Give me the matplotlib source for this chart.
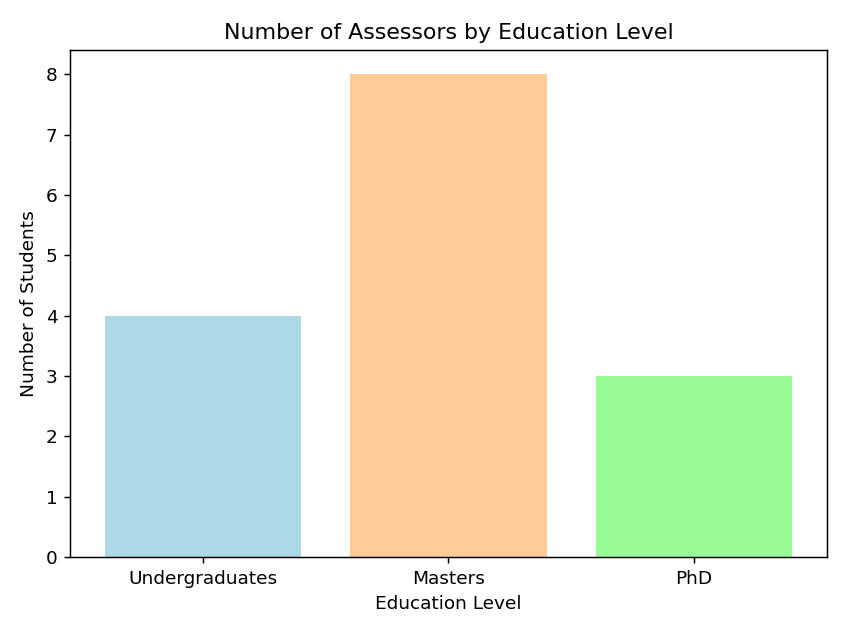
import matplotlib
matplotlib.use('Agg')
import matplotlib.pyplot as plt

levels = ['Undergraduates', 'Masters', 'PhD']
counts = [4, 8, 3]
colors = ['lightblue', '#FFCC99', 'palegreen']


def plot_data():
    """Plot the bar chart."""
    dpi = 133
    fig, ax = plt.subplots(figsize=(847 / dpi, 635 / dpi), dpi=dpi)
    ax.bar(levels, counts, color=colors)
    ax.set_title('Number of Assessors by Education Level')
    ax.set_xlabel('Education Level')
    ax.set_ylabel('Number of Students')
    fig.subplots_adjust(left=0.083, right=0.976, top=0.921, bottom=0.123)
    fig.savefig('out.png', dpi=dpi)


if __name__ == '__main__':
    plot_data()
